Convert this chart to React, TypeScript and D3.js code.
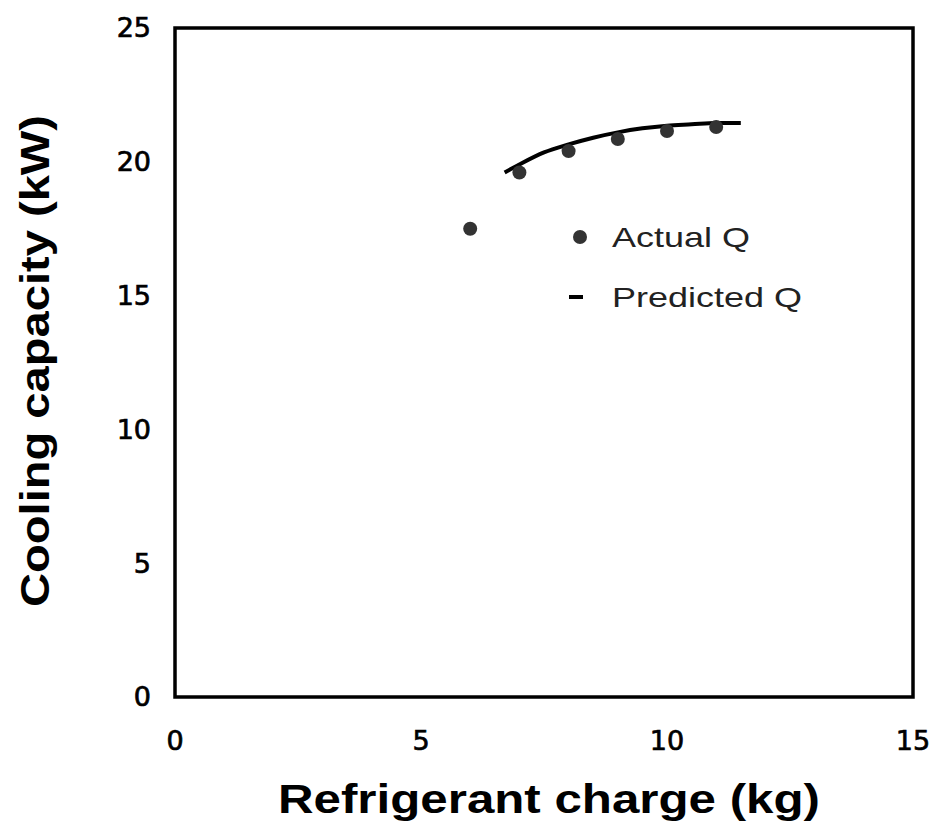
import React from "react";
import * as d3 from "d3";

// Measured cooling capacity at each refrigerant charge
const actualCharge = [6, 7, 8, 9, 10, 11];
const actualQ = [17.5, 19.6, 20.4, 20.85, 21.15, 21.3];

// Model prediction curve
const predCharge = [6.7, 7, 7.5, 8, 8.5, 9, 9.5, 10, 10.5, 11, 11.5];
const predQ = [19.6, 19.9, 20.35, 20.65, 20.9, 21.1, 21.25, 21.35, 21.4, 21.45, 21.45];

const xTicks = [0, 5, 10, 15];
const yTicks = [0, 5, 10, 15, 20, 25];

const W = 937;
const H = 831;
const M = { left: 175, right: 913, top: 28, bottom: 697 };

export default function App() {
  const x = d3.scaleLinear().domain([0, 15]).range([M.left, M.right]);
  const y = d3.scaleLinear().domain([0, 25]).range([M.bottom, M.top]);
  const line = d3
    .line<number>()
    .x((_, i) => x(predCharge[i]))
    .y((d) => y(d))
    .curve(d3.curveMonotoneX);

  const tickFont = "'DejaVu Sans', Verdana, sans-serif";
  const sansFont = "'Liberation Sans', Arial, sans-serif";

  return (
    <svg
      width={W}
      height={H}
      style={{ position: "absolute", left: 0, top: 0, background: "#fff" }}
    >
      <rect
        x={M.left}
        y={M.top}
        width={M.right - M.left}
        height={M.bottom - M.top}
        fill="none"
        stroke="#000"
        strokeWidth={3.5}
      />
      {yTicks.map((t) => (
        <text
          key={"y" + t}
          x={151}
          y={y(t)}
          dy="0.35em"
          textAnchor="end"
          fontFamily={tickFont}
          fontSize={27}
          fill="#000"
          stroke="#000"
          strokeWidth={0.7}
        >
          {t}
        </text>
      ))}
      {xTicks.map((t) => (
        <text
          key={"x" + t}
          x={x(t)}
          y={741}
          dy="0.35em"
          textAnchor="middle"
          fontFamily={tickFont}
          fontSize={27}
          fill="#000"
          stroke="#000"
          strokeWidth={0.7}
        >
          {t}
        </text>
      ))}
      <path d={line(predQ) || ""} fill="none" stroke="#000" strokeWidth={4} />
      {actualQ.map((q, i) => (
        <circle key={i} cx={x(actualCharge[i])} cy={y(q)} r={7} fill="#333" />
      ))}
      {/* legend */}
      <circle cx={580} cy={237} r={7} fill="#333" />
      <text
        x={612}
        y={247}
        fontFamily={sansFont}
        fontSize={28}
        fill="#222"
        textLength={138}
        lengthAdjust="spacingAndGlyphs"
      >
        Actual Q
      </text>
      <line x1={569} x2={583} y1={297} y2={297} stroke="#000" strokeWidth={4} />
      <text
        x={612}
        y={307}
        fontFamily={sansFont}
        fontSize={28}
        fill="#222"
        textLength={190}
        lengthAdjust="spacingAndGlyphs"
      >
        Predicted Q
      </text>
      <text
        x={278}
        y={813}
        fontFamily={sansFont}
        fontWeight="bold"
        fontSize={40}
        fill="#000"
        textLength={542}
        lengthAdjust="spacingAndGlyphs"
      >
        Refrigerant charge (kg)
      </text>
      <text
        transform={`translate(49,607) rotate(-90)`}
        fontFamily={sansFont}
        fontWeight="bold"
        fontSize={40}
        fill="#000"
        textLength={492}
        lengthAdjust="spacingAndGlyphs"
      >
        Cooling capacity (kW)
      </text>
    </svg>
  );
}
